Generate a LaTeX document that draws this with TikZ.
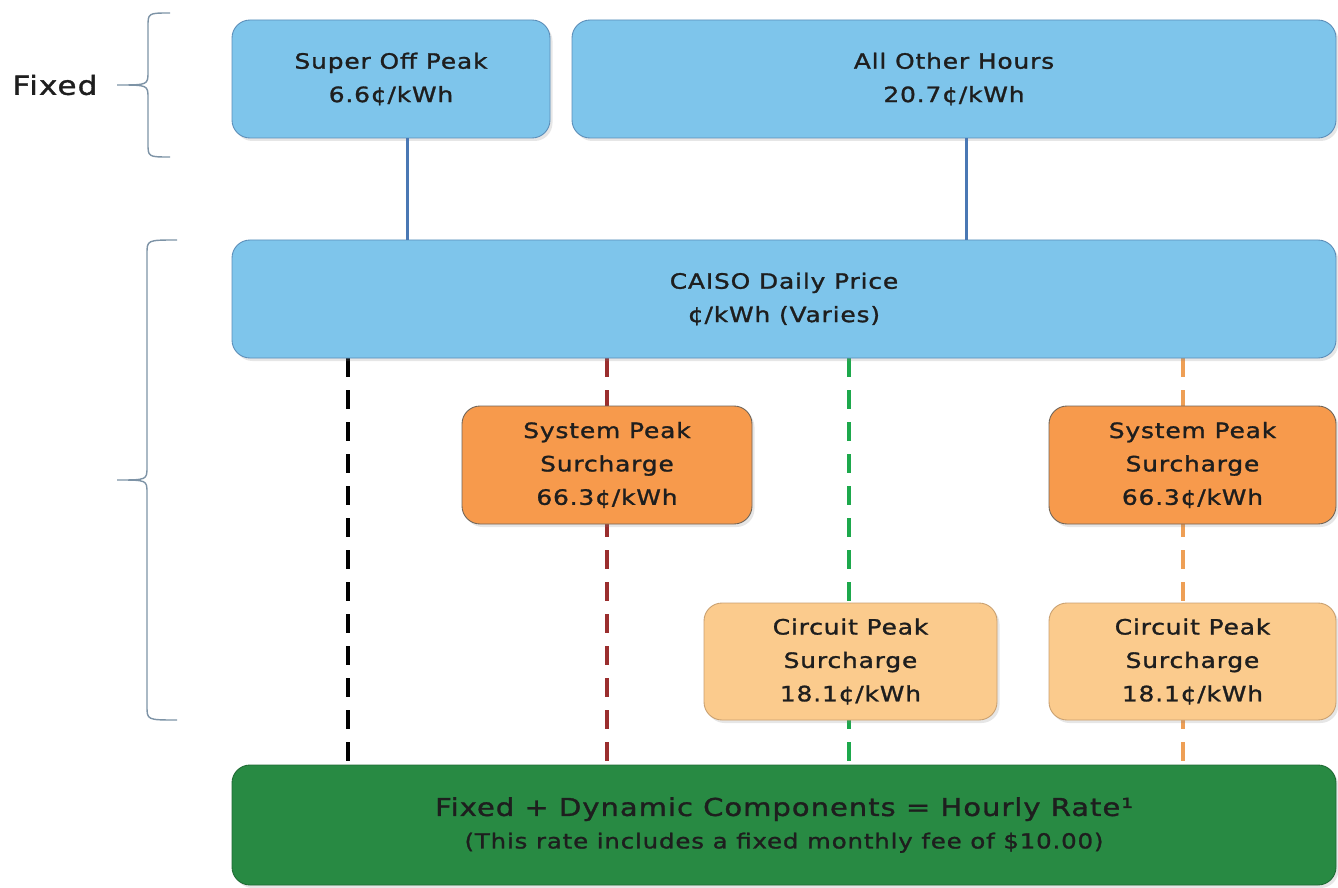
\documentclass[tikz,border=0pt]{standalone}
\usepackage{fontspec}
\setmainfont{DejaVu Sans}[FakeStretch=1.18, LetterSpace=4, FakeBold=1.3]
\usepackage{tikz}
\usetikzlibrary{positioning, calc, shadows, backgrounds}

\definecolor{skyfill}{HTML}{7EC5EB}
\definecolor{skyline}{HTML}{5B8DB8}
\definecolor{linkblue}{HTML}{4A78B4}
\definecolor{peakfill}{HTML}{F79A4C}
\definecolor{peakline}{HTML}{6F6458}
\definecolor{circfill}{HTML}{FBCB8D}
\definecolor{circline}{HTML}{C9A070}
\definecolor{ratefill}{HTML}{288A43}
\definecolor{rateline}{HTML}{1E6A33}
\definecolor{bracegray}{HTML}{7D93A6}
\definecolor{lanered}{HTML}{9A2E2E}
\definecolor{lanegreen}{HTML}{1DA84C}
\definecolor{laneorange}{HTML}{EE9F55}
\definecolor{ink}{HTML}{1E1E1E}

\begin{document}
\begin{tikzpicture}[font=\fontsize{12}{19}\selectfont, text=ink,
    box/.style={draw, rounded corners=0.36cm, line width=0.5pt, align=center,
        minimum height=2.36cm, inner sep=0pt,
        drop shadow={opacity=0.2, shadow xshift=0.05cm, shadow yshift=-0.06cm}},
    fixbox/.style={box, fill=skyfill, draw=skyline},
    peakbox/.style={box, fill=peakfill, draw=peakline},
    circbox/.style={box, fill=circfill, draw=circline, minimum height=2.34cm},
    link/.style={draw=linkblue, line width=1.7pt},
    lane/.style={line width=2pt, dash pattern=on 0.38cm off 0.26cm},
    brace/.style={draw=bracegray, line width=0.8pt}]
    \useasboundingbox (0,0) rectangle (26.76,17.74);

    % fixed part
    \node[fixbox, minimum width=6.36cm] (sop) at (7.82,16.16) {Super Off Peak\\6.6¢/kWh};
    \node[fixbox, minimum width=15.28cm] (aoh) at (19.08,16.16) {All Other Hours\\20.7¢/kWh};
    \node[font=\fontsize{15}{17}\selectfont] (fixed) at (1.1,16.04) {Fixed};

    % dynamic part
    \node[fixbox, minimum width=22.08cm] (caiso) at (15.68,11.76) {CAISO Daily Price\\¢/kWh (Varies)};
    \node[peakbox, minimum width=5.8cm] (sp1) at (12.14,8.44) {System Peak\\Surcharge\\66.3¢/kWh};
    \node[peakbox, minimum width=5.74cm] (sp2) at (23.85,8.44) {System Peak\\Surcharge\\66.3¢/kWh};
    \node[circbox, minimum width=5.86cm] (cp1) at (17.01,4.51) {Circuit Peak\\Surcharge\\18.1¢/kWh};
    \node[circbox, minimum width=5.74cm] (cp2) at (23.85,4.51) {Circuit Peak\\Surcharge\\18.1¢/kWh};

    \node[box, fill=ratefill, draw=rateline, minimum width=22.08cm, minimum height=2.4cm,
        font=\fontsize{11.8}{18.5}\selectfont] (rate) at (15.68,1.24)
        {{\fontsize{14}{20}\selectfont Fixed + Dynamic Components = Hourly Rate¹}\\
         (This rate includes a fixed monthly fee of \$10.00)};

    % solid links into the daily price
    \coordinate (sopdrop) at ($(sop.south)+(0.32,0)$);
    \coordinate (aohdrop) at ($(aoh.south)+(0.24,0)$);
    \draw[link] (sopdrop) -- (sopdrop |- caiso.north);
    \draw[link] (aohdrop) -- (aohdrop |- caiso.north);

    % dashed lanes down to the hourly rate
    \coordinate (k1) at (6.96,0);
    \coordinate (k2) at (sp1.center);
    \coordinate (k3) at (16.98,0);
    \coordinate (k4) at (23.66,0);
    \begin{scope}[on background layer]
        \draw[lane, black, line width=2.6pt] (caiso.south -| k1) -- (rate.north -| k1);
        \draw[lane, lanered, line width=1.8pt] (caiso.south -| k2) -- (rate.north -| k2);
        \draw[lane, lanegreen] (caiso.south -| k3) -- (rate.north -| k3);
        \draw[lane, laneorange] (caiso.south -| k4) -- (rate.north -| k4);
    \end{scope}

    % braces on the left
    \draw[brace] (3.4,17.48) .. controls (2.96,17.48) .. (2.96,17.2) -- (2.96,16.3)
        .. controls (2.96,16.04) .. (2.34,16.04) .. controls (2.96,16.04) .. (2.96,15.78)
        -- (2.96,14.88) .. controls (2.96,14.6) .. (3.4,14.6);
    \draw[brace] (3.54,12.94) .. controls (2.94,12.94) .. (2.94,12.66) -- (2.94,8.4)
        .. controls (2.94,8.14) .. (2.34,8.14) .. controls (2.94,8.14) .. (2.94,7.88)
        -- (2.94,3.62) .. controls (2.94,3.34) .. (3.54,3.34);
\end{tikzpicture}
\end{document}
